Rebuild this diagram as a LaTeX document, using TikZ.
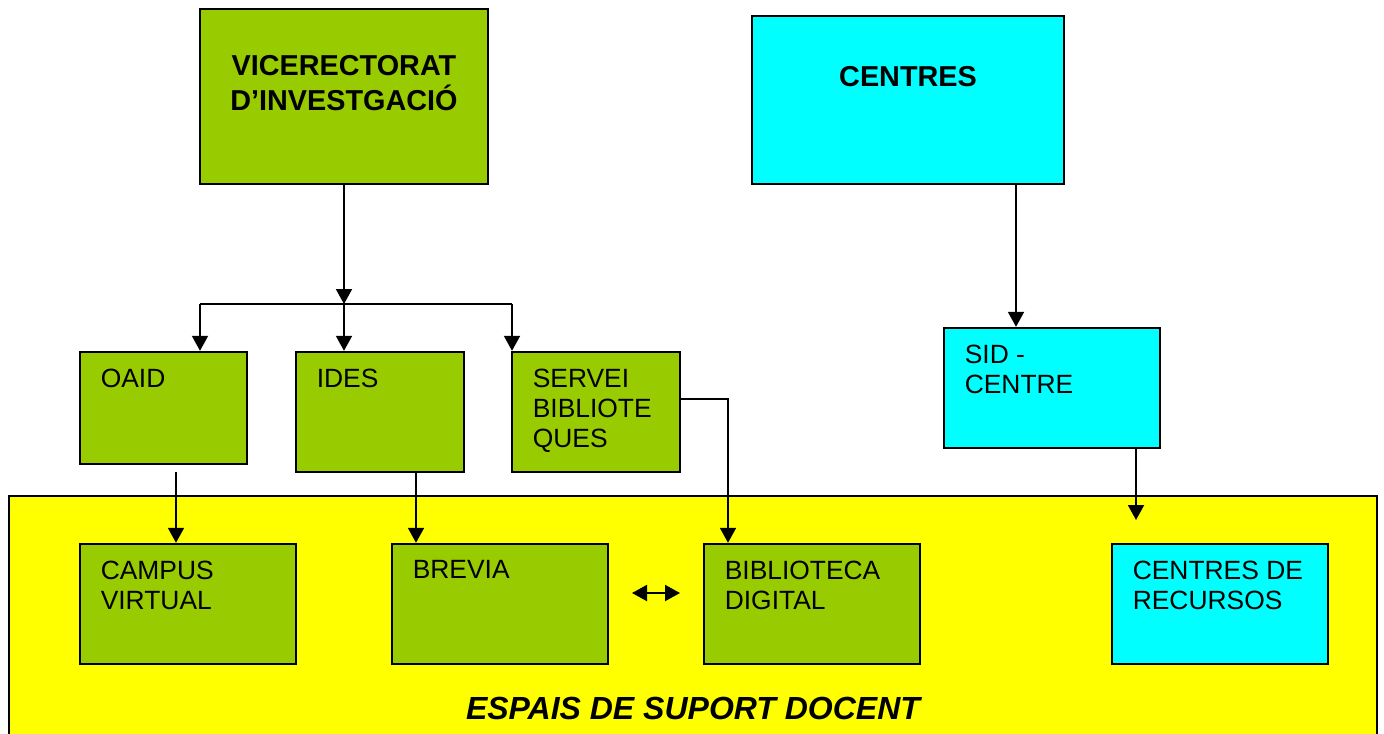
\documentclass[tikz,border=0pt]{standalone}
\usepackage{fontspec}
\setmainfont{Liberation Sans}
\usetikzlibrary{arrows.meta}
\definecolor{leaf}{HTML}{99CC00}
\definecolor{aqua}{HTML}{00FFFF}
\definecolor{lemon}{HTML}{FFFF00}

\begin{document}
\begin{tikzpicture}[x=0.5pt,y=-0.5pt,line width=1pt,
>={Triangle[length=7.5pt,width=8pt]},
box/.style 2 args={draw=black,line width=1.2pt,inner sep=0pt,minimum width=#1,minimum height=#2},
txt/.style={anchor=north west,inner sep=0pt,align=left,xshift=10.5pt,yshift=-8.5pt,
font=\fontsize{13.2}{15}\selectfont},
head/.style={anchor=north,inner sep=0pt,align=center,font=\fontsize{14.4}{17.5}\selectfont\bfseries}]
\useasboundingbox (0,0) rectangle (1384,733);
\clip (0,0) rectangle (1384,733);
\node[box={684pt}{122pt},fill=lemon] (espais) at (693,618) {};
\node[anchor=base,inner sep=0pt,font=\fontsize{16}{18}\selectfont\bfseries\itshape] (espaistxt) at (693,719) {ESPAIS DE SUPORT DOCENT};
\node[box={144pt}{87.5pt},fill=leaf,label={[head,yshift=-23.5pt]north:{VICERECTORAT\\D’INVESTGACIÓ}}] (vice) at (344,96.5) {};
\node[box={156pt}{84pt},fill=aqua,label={[head,yshift=-25.5pt]north:{CENTRES}}] (centres) at (908,100) {};
\node[box={83.5pt}{56pt},fill=leaf,label={[txt]north west:{OAID}}] (oaid) at (163.5,408) {};
\node[box={84pt}{60pt},fill=leaf,label={[txt]north west:{IDES}}] (ides) at (380,412) {};
\node[box={84pt}{60pt},fill=leaf,label={[txt]north west:{SERVEI\\BIBLIOTE\\QUES}}] (servei) at (596,412) {};
\node[box={108pt}{60pt},fill=aqua,label={[txt]north west:{SID -\\CENTRE}}] (sid) at (1052,388) {};
\node[box={108pt}{60pt},fill=leaf,label={[txt]north west:{CAMPUS\\VIRTUAL}}] (campus) at (188,604) {};
\node[box={108pt}{60pt},fill=leaf,label={[txt]north west:{BREVIA}}] (brevia) at (500,604) {};
\node[box={108pt}{60pt},fill=leaf,label={[txt]north west:{BIBLIOTECA\\DIGITAL}}] (biblio) at (812,604) {};
\node[box={108pt}{60pt},fill=aqua,label={[txt]north west:{CENTRES DE\\RECURSOS}}] (recursos) at (1220,604) {};
\coordinate (fork) at (344,304);
\coordinate (f1) at (200,304);
\coordinate (f3) at (512,304);
\coordinate (oc) at (176,472);
\coordinate (ib) at (416,0);
\coordinate (sb) at (728,399);
\coordinate (cs) at (1016,0);
\coordinate (sr) at (1136,520);
\coordinate (dl) at (632,593);
\coordinate (dr) at (680,593);
\draw[->] (vice.south) -- (fork);
\draw (f1) -- (f3);
\draw[->] (f1) -- (f1 |- oaid.north);
\draw[->] (fork) -- (fork |- ides.north);
\draw[->] (f3) -- (f3 |- servei.north);
\draw[->] (oc) -- (oc |- campus.north);
\draw[->] (ides.south -| ib) -- (brevia.north -| ib);
\draw[->] (servei.east |- sb) -- (sb) -- (sb |- biblio.north);
\draw[->] (centres.south -| cs) -- (sid.north -| cs);
\draw[->] (sid.south -| sr) -- (sr);
\draw[<->] (dl) -- (dr);
\end{tikzpicture}
\end{document}
